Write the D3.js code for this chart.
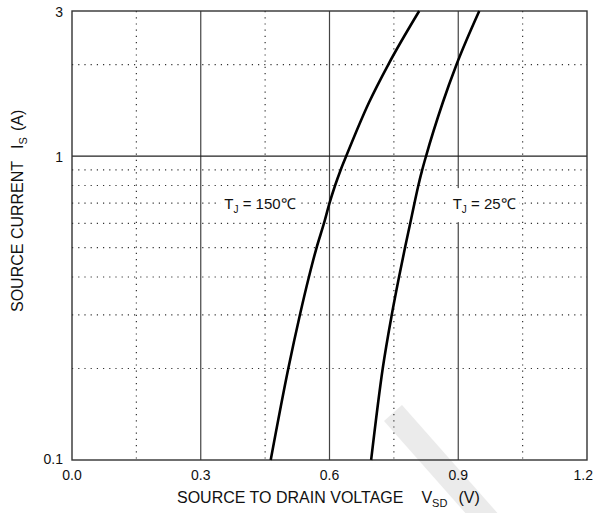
<!DOCTYPE html>
<html>
<head>
<meta charset="utf-8">
<script src="https://cdn.jsdelivr.net/npm/d3@7"></script>
<style>
  body { margin: 0; background: #fff; }
  svg text { font-family: "Liberation Sans", Arial, sans-serif; fill: #111; }
</style>
</head>
<body>
<div id="chart"></div>
<script>
// source current (A)
var currents = [0.1, 0.2, 0.3, 0.4, 0.5, 0.6, 0.7, 0.8, 0.9, 1.0, 1.5, 2.0, 3.0];
// source to drain voltage (V) per junction temperature
var vsd150 = [0.463, 0.504, 0.531, 0.552, 0.570, 0.587, 0.600, 0.613, 0.626, 0.639, 0.692, 0.737, 0.809];
var vsd25 = [0.697, 0.724, 0.745, 0.762, 0.776, 0.788, 0.798, 0.807, 0.816, 0.825, 0.864, 0.896, 0.949];

var xMajor = [0.3, 0.6, 0.9];
var xMinor = [0.15, 0.45, 0.75, 1.05];
var xTicks = [0, 0.3, 0.6, 0.9, 1.2];
var yMajor = [1];
var yMinor = [0.2, 0.3, 0.4, 0.5, 0.6, 0.7, 0.8, 0.9, 2];
var yTicks = [0.1, 1, 3];

var W = 600, H = 513;
var m = {left: 72, top: 11, right: 13, bottom: 53};
var w = W - m.left - m.right, h = H - m.top - m.bottom;

var x = d3.scaleLinear().domain([0, 1.2]).range([0, w]);
var y = d3.scaleLog().domain([0.1, 3]).range([h, 0]);

var svg = d3.select('#chart').append('svg')
    .attr('width', W)
    .attr('height', H);

// faint diagonal watermark stripe behind everything
svg.append('line')
    .attr('x1', 393).attr('y1', 413).attr('x2', 492).attr('y2', 525)
    .attr('stroke', '#ebebeb').attr('stroke-width', 24);

var g = svg.append('g').attr('transform', 'translate(' + m.left + ',' + m.top + ')');

// dotted minor grid
g.selectAll('.xminor').data(xMinor).enter().append('line')
    .attr('x1', x).attr('x2', x).attr('y1', 0).attr('y2', h)
    .attr('stroke', '#333').attr('stroke-width', 1.2).attr('stroke-dasharray', '1.2,5');
g.selectAll('.yminor').data(yMinor).enter().append('line')
    .attr('y1', y).attr('y2', y).attr('x1', 0).attr('x2', w)
    .attr('stroke', '#333').attr('stroke-width', 1.2).attr('stroke-dasharray', '1.2,5');

// solid major grid
g.selectAll('.xmajor').data(xMajor).enter().append('line')
    .attr('x1', x).attr('x2', x).attr('y1', 0).attr('y2', h)
    .attr('stroke', '#444').attr('stroke-width', 1.2);
g.selectAll('.ymajor').data(yMajor).enter().append('line')
    .attr('y1', y).attr('y2', y).attr('x1', 0).attr('x2', w)
    .attr('stroke', '#222').attr('stroke-width', 1.2);

// frame
g.append('rect')
    .attr('width', w).attr('height', h)
    .attr('fill', 'none').attr('stroke', '#333').attr('stroke-width', 1.4);

// curve labels, boxed in white over the grid
function tjLabel(px, py, t) {
    var box = g.append('rect').attr('fill', '#fff');
    var tx = g.append('text').attr('x', px).attr('y', py).attr('font-size', 15);
    tx.append('tspan').text('T');
    tx.append('tspan').attr('font-size', 10).attr('dy', 4).text('J');
    tx.append('tspan').attr('dy', -4).text(' = ' + t + '\u2103');
    var b = tx.node().getBBox();
    box.attr('x', b.x - 4).attr('y', b.y - 7)
        .attr('width', b.width + 8).attr('height', b.height + 14);
}
tjLabel(x(0.355), y(0.7) + 6, 150);
tjLabel(x(0.887), y(0.7) + 6, 25);

// curves
var line = d3.line()
    .x(function(d) { return x(d[0]); })
    .y(function(d) { return y(d[1]); })
    .curve(d3.curveMonotoneX);

[vsd150, vsd25].forEach(function(v) {
    g.append('path')
        .datum(d3.zip(v, currents))
        .attr('d', line)
        .attr('fill', 'none')
        .attr('stroke', '#000')
        .attr('stroke-width', 2.6);
});

// tick labels
g.selectAll('.xlab').data(xTicks).enter().append('text')
    .attr('x', function(d, i) { return i === xTicks.length - 1 ? x(d) + 6 : x(d); })
    .attr('y', h + 20)
    .attr('text-anchor', function(d, i) { return i === xTicks.length - 1 ? 'end' : 'middle'; })
    .attr('font-size', 14)
    .text(function(d) { return d.toFixed(1); });

g.selectAll('.ylab').data(yTicks).enter().append('text')
    .attr('x', -9)
    .attr('y', y)
    .attr('dy', function(d) { return d === 0.1 ? '0.3em' : '0.4em'; })
    .attr('text-anchor', 'end')
    .attr('font-size', 14)
    .text(function(d) { return d; });

// axis titles
var xt = svg.append('text')
    .attr('x', 177)
    .attr('y', 503)
    .attr('font-size', 16);
xt.append('tspan').text('SOURCE TO DRAIN VOLTAGE');
xt.append('tspan').attr('dx', 18).text('V');
xt.append('tspan').attr('font-size', 11).attr('dy', 4).text('SD');
xt.append('tspan').attr('dy', -4).attr('dx', 11).text('(V)');

var yt = svg.append('text')
    .attr('transform', 'translate(23,312) rotate(-90)')
    .attr('font-size', 16);
yt.append('tspan').text('SOURCE CURRENT');
yt.append('tspan').attr('dx', 12).text('I');
yt.append('tspan').attr('font-size', 11).attr('dy', 4).text('S');
yt.append('tspan').attr('dy', -4).attr('dx', 6).text('(A)');
</script>
</body>
</html>
